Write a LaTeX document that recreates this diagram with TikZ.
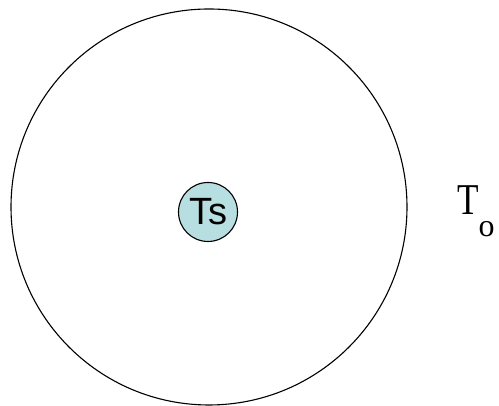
\documentclass[tikz,border=0pt]{standalone}
\usepackage{fontspec}
\setmainfont{Liberation Serif}
\setsansfont{Liberation Sans}
\definecolor{tscyan}{RGB}{183,222,225}

\begin{document}
\begin{tikzpicture}[x=1pt, y=1pt]
        \useasboundingbox (0,0) rectangle (499,406);

	\node[draw=black, line width=1.1pt, circle, minimum size=396pt, inner sep=0pt] (outer) at (209,199) {};

	\node[draw=black, line width=1.1pt, circle, fill=tscyan, minimum size=59pt, inner sep=0pt] (ts) at (208,194) {\sffamily\fontsize{38}{38}\selectfont Ts};

	\node[black, anchor=base west, inner sep=0pt] (to) at (457,191) {\fontsize{44}{44}\selectfont\scalebox{0.8}[1]{T}\raisebox{-22pt}{\fontsize{32}{32}\selectfont o}};

\end{tikzpicture}
\end{document}
